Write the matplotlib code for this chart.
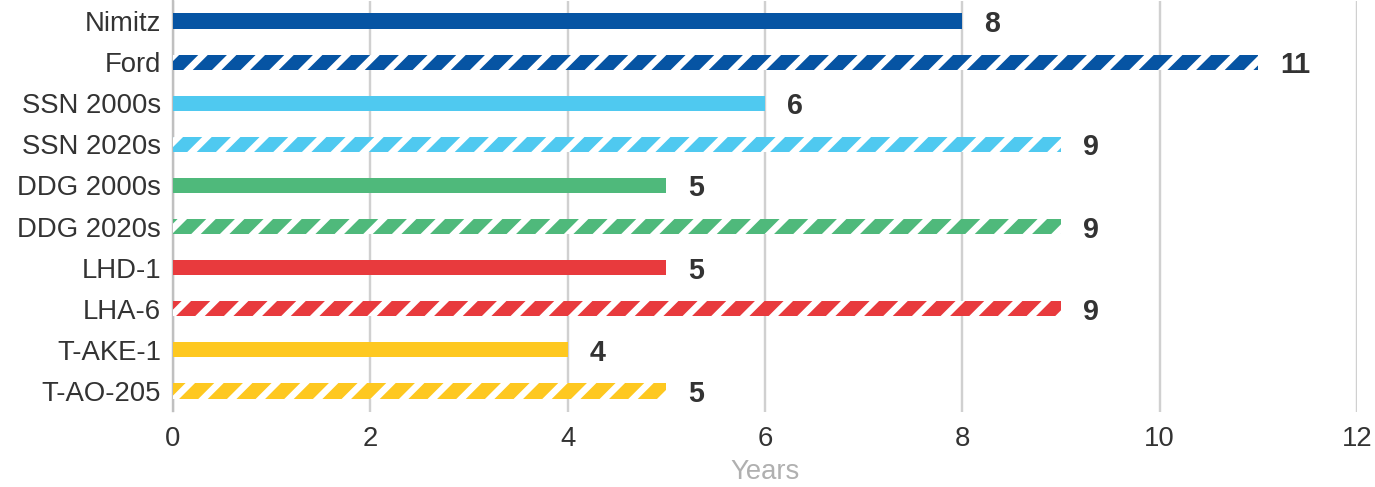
import numpy as np
import matplotlib.pyplot as plt

# data
ships = ['Nimitz', 'Ford', 'SSN 2000s', 'SSN 2020s', 'DDG 2000s', 'DDG 2020s',
         'LHD-1', 'LHA-6', 'T-AKE-1', 'T-AO-205']
years = [8, 11, 6, 9, 5, 9, 5, 9, 4, 5]
hatched = [False, True, False, True, False, True, False, True, False, True]
colors = ['#0654a3', '#0654a3', '#4fc9f0', '#4fc9f0', '#4fb97b', '#4fb97b',
          '#e83a3d', '#e83a3d', '#fec820', '#fec820']
xticks = [0, 2, 4, 6, 8, 10, 12]

DPI = 172
plt.rcParams['font.family'] = ['Liberation Sans', 'DejaVu Sans']
plt.rcParams['hatch.linewidth'] = 2.8

fig = plt.figure(figsize=(1375 / DPI, 487 / DPI), dpi=DPI)
ax = fig.add_axes([173 / 1375, 1 - 411.5 / 487, (1357 - 173) / 1375, 411 / 487])

y = np.arange(len(ships))
for i in range(len(ships)):
    ax.barh(y[i], years[i], height=0.37, color=colors[i],
            edgecolor='white', linewidth=0,
            hatch='//' if hatched[i] else None, zorder=3)
    ax.text(years[i] + 0.22, y[i], str(years[i]), va='center_baseline', ha='left',
            fontsize=12, fontweight='bold', color='#333333')

ax.set_ylim(len(ships) - 0.5, -0.5)
ax.set_xlim(0, 12)
ax.set_xticks(xticks)
ax.set_yticks(y)
ax.set_yticklabels(ships)
ax.tick_params(axis='both', length=0, labelsize=11.5, colors='#333333')
ax.tick_params(axis='y', pad=5)
ax.tick_params(axis='x', pad=6)
ax.grid(axis='x', color='#d0d0d0', linewidth=1.0, zorder=0)
for s in ['top', 'right', 'bottom']:
    ax.spines[s].set_visible(False)
ax.spines['left'].set_color('#c0c0c0')
ax.spines['left'].set_linewidth(1.0)
ax.set_xlabel('Years', fontsize=11.5, color='#b0b0b0', labelpad=3)

fig.savefig('out.png', dpi=DPI)
